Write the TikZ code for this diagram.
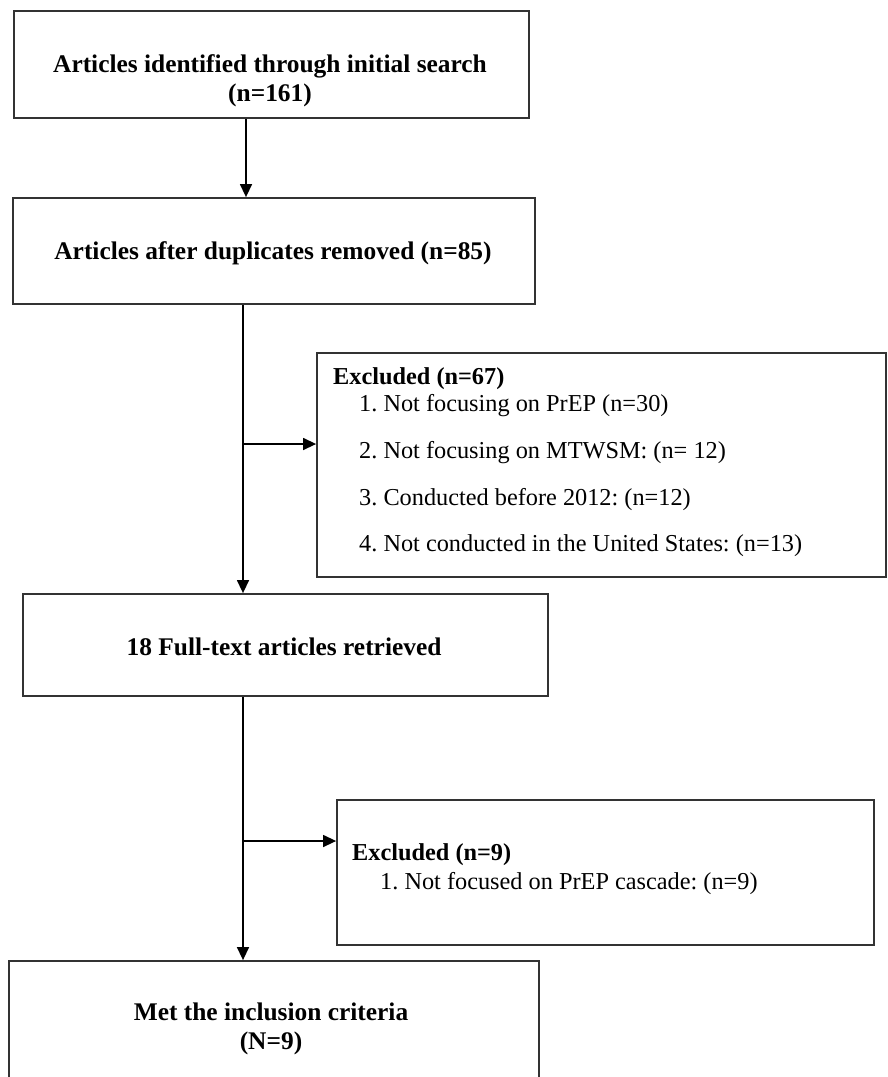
\documentclass[tikz,border=0pt]{standalone}
\usepackage{fontspec}
\setmainfont{Liberation Serif}
\usetikzlibrary{arrows.meta}
\begin{document}
\frenchspacing
\begin{tikzpicture}[x=1pt,y=-1pt,
  box/.style={draw=black!80, line width=1.8pt, rectangle, inner sep=0pt},
  conn/.style={line width=1.4pt, draw=black},
  arr/.style={conn, -{Triangle[length=13pt,width=12pt]}},
  title/.style={font=\fontsize{25.4}{29}\selectfont\bfseries, align=center, inner sep=0pt},
  head/.style={font=\fontsize{24.3}{29}\selectfont\bfseries, anchor=west, inner sep=0pt},
  item/.style={font=\fontsize{24.3}{29}\selectfont, anchor=west, inner sep=0pt}]
\useasboundingbox (0,0) rectangle (888,1077);
\fill[white] (0,0) rectangle (888,1077);
% boxes
\node[box, minimum width=515pt, minimum height=107pt] (b1) at (271.5,64.5) {};
\node[box, minimum width=522pt, minimum height=106pt] (b2) at (274,251) {};
\node[box, minimum width=569pt, minimum height=224pt] (b4) at (601.5,465) {};
\node[box, minimum width=525pt, minimum height=102pt] (b3) at (285.5,645) {};
\node[box, minimum width=537pt, minimum height=145pt] (b6) at (605.5,872.5) {};
\node[box, minimum width=530pt, minimum height=134pt] (b5) at (274,1028) {};
% texts
\node[title] (t1) at (270,80.5) {Articles identified through initial search\\(n=161)};
\node[title] (t2) at (273,253) {Articles after duplicates removed (n=85)};
\node[title] (t3) at (284,647) {18 Full-text articles retrieved};
\node[title] (t5) at (271,1028.5) {Met the inclusion criteria\\(N=9)};
\node[head] (h4) at (333,379) {Excluded (n=67)};
\node[item] (i41) at (359,406) {1. Not focusing on PrEP (n=30)};
\node[item] (i42) at (359,453) {2. Not focusing on MTWSM: (n= 12)};
\node[item] (i43) at (359,500) {3. Conducted before 2012: (n=12)};
\node[item] (i44) at (359,546) {4. Not conducted in the United States: (n=13)};
\node[head] (h6) at (352,855) {Excluded (n=9)};
\node[item] (i61) at (380,884) {1. Not focused on PrEP cascade: (n=9)};
% connectors
\coordinate (j1) at (246,160);
\coordinate (j2) at (243,444);
\coordinate (j3) at (243,841);
\draw[arr] (b1.south -| j1) -- (b2.north -| j1);
\draw[arr] (b2.south -| j2) -- (b3.north -| j2);
\draw[arr] (j2) -- (j2 -| b4.west);
\draw[arr] (b3.south -| j3) -- (b5.north -| j3);
\draw[arr] (j3) -- (j3 -| b6.west);
\end{tikzpicture}
\end{document}
